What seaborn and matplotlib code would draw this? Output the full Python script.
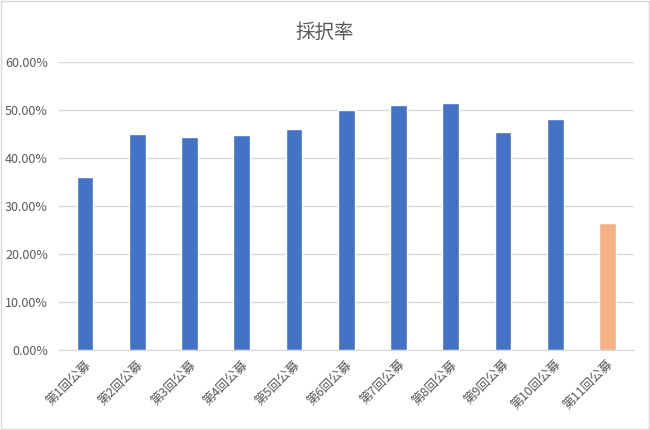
import pandas as pd
import seaborn as sns
import matplotlib.pyplot as plt
from matplotlib.ticker import PercentFormatter
from matplotlib.patches import Rectangle

# データ
rounds = ['第1回公募', '第2回公募', '第3回公募', '第4回公募', '第5回公募', '第6回公募',
          '第7回公募', '第8回公募', '第9回公募', '第10回公募', '第11回公募']
rates = [0.360, 0.449, 0.444, 0.447, 0.460, 0.499, 0.510, 0.514, 0.454, 0.481, 0.264]
group = ['done'] * 10 + ['latest']

df = pd.DataFrame({'round': rounds, 'rate': rates, 'group': group})

sns.set_style('white')
plt.rcParams['font.family'] = ['Noto Sans CJK JP', 'DejaVu Sans']

fig = plt.figure(figsize=(6.5, 4.3), dpi=100)
ax = fig.add_axes([0.0908, 0.186, 0.884, 0.670])

sns.barplot(data=df, x='round', y='rate', hue='group',
            palette={'done': '#4472C4', 'latest': '#F4B183'},
            width=0.32, dodge=False, saturation=1, legend=False, ax=ax)

ax.set_ylim(0, 0.6)
ax.set_xlim(-0.5, len(rounds) - 0.5)
ax.set_yticks([0, 0.1, 0.2, 0.3, 0.4, 0.5, 0.6])
ax.yaxis.set_major_formatter(PercentFormatter(1.0, decimals=2))
ax.grid(axis='y', color='#D9D9D9', linewidth=1)
ax.set_axisbelow(True)
for s in ['top', 'right', 'left']:
    ax.spines[s].set_visible(False)
ax.spines['bottom'].set_color('#D9D9D9')
ax.set_xlabel('')
ax.set_ylabel('')
ax.tick_params(axis='both', length=0, colors='#595959', labelsize=9)
plt.setp(ax.get_xticklabels(), rotation=45, ha='right', rotation_mode='anchor')
ax.tick_params(axis='y', pad=8)
ax.tick_params(axis='x', pad=6)

fig.suptitle('採択率', y=0.95, fontsize=14, color='#595959')

# 外枠
fig.patches.append(Rectangle((0.002, 0.002), 0.996, 0.996, transform=fig.transFigure,
                             fill=False, edgecolor='#D9D9D9', linewidth=1))

plt.savefig('out.png', dpi=100)
